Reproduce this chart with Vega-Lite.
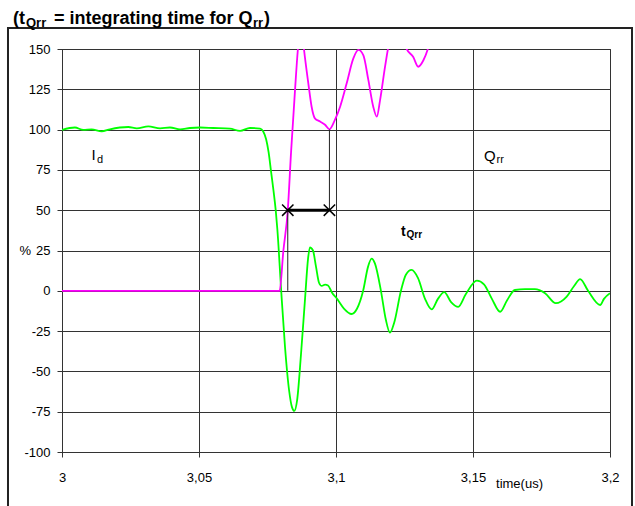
{
  "$schema": "https://vega.github.io/schema/vega-lite/v6.json",
  "width": 548,
  "height": 403,
  "autosize": {"type": "none"},
  "padding": {"left": 62, "top": 49, "right": 25, "bottom": 54},
  "background": "white",
  "config": {
    "view": {"stroke": "#333", "strokeWidth": 1},
    "axis": {
      "labelFont": "Liberation Sans", "labelFontSize": 13, "labelColor": "#000",
      "titleFont": "Liberation Sans", "titleFontSize": 13, "titleFontWeight": "normal", "titleColor": "#000",
      "gridColor": "#333", "gridOpacity": 1, "gridWidth": 1,
      "domainColor": "#333", "tickColor": "#333", "tickSize": 5
    }
  },
  "datasets": {
    "curves": [
      {"series": "Id", "x": 3.0, "y": 99.8}, {"series": "Id", "x": 3.0047, "y": 101.3}, {"series": "Id", "x": 3.0078, "y": 99.8},
      {"series": "Id", "x": 3.0108, "y": 100.2}, {"series": "Id", "x": 3.0145, "y": 98.9}, {"series": "Id", "x": 3.0175, "y": 100.2},
      {"series": "Id", "x": 3.0242, "y": 101.6}, {"series": "Id", "x": 3.0273, "y": 100.8}, {"series": "Id", "x": 3.0315, "y": 102},
      {"series": "Id", "x": 3.0358, "y": 100.8}, {"series": "Id", "x": 3.0394, "y": 101.3}, {"series": "Id", "x": 3.0431, "y": 100.2},
      {"series": "Id", "x": 3.0467, "y": 101}, {"series": "Id", "x": 3.0504, "y": 101.3}, {"series": "Id", "x": 3.0552, "y": 101},
      {"series": "Id", "x": 3.0613, "y": 100.6}, {"series": "Id", "x": 3.065, "y": 99.2}, {"series": "Id", "x": 3.0686, "y": 101},
      {"series": "Id", "x": 3.0723, "y": 100.6}, {"series": "Id", "x": 3.0734, "y": 99}, {"series": "Id", "x": 3.0745, "y": 94},
      {"series": "Id", "x": 3.0754, "y": 86}, {"series": "Id", "x": 3.0763, "y": 74}, {"series": "Id", "x": 3.0772, "y": 62},
      {"series": "Id", "x": 3.078, "y": 50}, {"series": "Id", "x": 3.0786, "y": 38}, {"series": "Id", "x": 3.08, "y": 0},
      {"series": "Id", "x": 3.0814, "y": -35}, {"series": "Id", "x": 3.0829, "y": -62}, {"series": "Id", "x": 3.0839, "y": -72},
      {"series": "Id", "x": 3.0848, "y": -74.5}, {"series": "Id", "x": 3.0858, "y": -68}, {"series": "Id", "x": 3.0872, "y": -40},
      {"series": "Id", "x": 3.0887, "y": -5}, {"series": "Id", "x": 3.0898, "y": 20}, {"series": "Id", "x": 3.0905, "y": 27},
      {"series": "Id", "x": 3.0916, "y": 25}, {"series": "Id", "x": 3.0927, "y": 15}, {"series": "Id", "x": 3.0938, "y": 5},
      {"series": "Id", "x": 3.0948, "y": 3}, {"series": "Id", "x": 3.096, "y": 3.8}, {"series": "Id", "x": 3.0971, "y": 3.3},
      {"series": "Id", "x": 3.0985, "y": -1}, {"series": "Id", "x": 3.1004, "y": -5}, {"series": "Id", "x": 3.1029, "y": -11},
      {"series": "Id", "x": 3.1057, "y": -14.4}, {"series": "Id", "x": 3.1077, "y": -11}, {"series": "Id", "x": 3.1099, "y": 0},
      {"series": "Id", "x": 3.1117, "y": 15}, {"series": "Id", "x": 3.113, "y": 20}, {"series": "Id", "x": 3.1142, "y": 17},
      {"series": "Id", "x": 3.1164, "y": 0}, {"series": "Id", "x": 3.1182, "y": -18}, {"series": "Id", "x": 3.1197, "y": -26},
      {"series": "Id", "x": 3.1212, "y": -20}, {"series": "Id", "x": 3.1237, "y": 0}, {"series": "Id", "x": 3.1255, "y": 10},
      {"series": "Id", "x": 3.1276, "y": 13}, {"series": "Id", "x": 3.1299, "y": 8}, {"series": "Id", "x": 3.1325, "y": -5},
      {"series": "Id", "x": 3.1349, "y": -11.5}, {"series": "Id", "x": 3.1372, "y": -5}, {"series": "Id", "x": 3.1395, "y": -0.8},
      {"series": "Id", "x": 3.142, "y": -7}, {"series": "Id", "x": 3.1446, "y": -10}, {"series": "Id", "x": 3.1474, "y": -2},
      {"series": "Id", "x": 3.1514, "y": 6.3}, {"series": "Id", "x": 3.154, "y": 4}, {"series": "Id", "x": 3.1569, "y": -5},
      {"series": "Id", "x": 3.1599, "y": -13}, {"series": "Id", "x": 3.1624, "y": -6}, {"series": "Id", "x": 3.1653, "y": 0.5},
      {"series": "Id", "x": 3.169, "y": 1}, {"series": "Id", "x": 3.1726, "y": 1}, {"series": "Id", "x": 3.1763, "y": -1.5},
      {"series": "Id", "x": 3.1802, "y": -7.7}, {"series": "Id", "x": 3.1842, "y": -3.6}, {"series": "Id", "x": 3.1869, "y": 3},
      {"series": "Id", "x": 3.1891, "y": 7.3}, {"series": "Id", "x": 3.192, "y": 0}, {"series": "Id", "x": 3.1964, "y": -8.8},
      {"series": "Id", "x": 3.1978, "y": -5}, {"series": "Id", "x": 3.2, "y": -1.5},
      {"series": "Qrr", "x": 3.0, "y": 0}, {"series": "Qrr", "x": 3.0785, "y": 0}, {"series": "Qrr", "x": 3.0794, "y": 0},
      {"series": "Qrr", "x": 3.0808, "y": 25}, {"series": "Qrr", "x": 3.0824, "y": 50}, {"series": "Qrr", "x": 3.0836, "y": 86},
      {"series": "Qrr", "x": 3.0848, "y": 118}, {"series": "Qrr", "x": 3.086, "y": 148}, {"series": "Qrr", "x": 3.0872, "y": 168},
      {"series": "Qrr", "x": 3.0883, "y": 150}, {"series": "Qrr", "x": 3.0899, "y": 128.7}, {"series": "Qrr", "x": 3.0911, "y": 114.2},
      {"series": "Qrr", "x": 3.0923, "y": 107}, {"series": "Qrr", "x": 3.0942, "y": 105}, {"series": "Qrr", "x": 3.096, "y": 103},
      {"series": "Qrr", "x": 3.0976, "y": 100.2}, {"series": "Qrr", "x": 3.0996, "y": 106}, {"series": "Qrr", "x": 3.1015, "y": 114.2},
      {"series": "Qrr", "x": 3.1039, "y": 128.7}, {"series": "Qrr", "x": 3.1063, "y": 144}, {"series": "Qrr", "x": 3.1082, "y": 149.4},
      {"series": "Qrr", "x": 3.11, "y": 146}, {"series": "Qrr", "x": 3.1118, "y": 130.8}, {"series": "Qrr", "x": 3.1136, "y": 114.2},
      {"series": "Qrr", "x": 3.1149, "y": 108}, {"series": "Qrr", "x": 3.1161, "y": 118.4}, {"series": "Qrr", "x": 3.1179, "y": 139},
      {"series": "Qrr", "x": 3.1195, "y": 155}, {"series": "Qrr", "x": 3.1226, "y": 168}, {"series": "Qrr", "x": 3.1258, "y": 150},
      {"series": "Qrr", "x": 3.1282, "y": 145}, {"series": "Qrr", "x": 3.13, "y": 139}, {"series": "Qrr", "x": 3.1319, "y": 143},
      {"series": "Qrr", "x": 3.1337, "y": 151}, {"series": "Qrr", "x": 3.136, "y": 168}
    ],
    "frame": [{"x": 2.98029, "x2": 3.20803, "y": 163.0, "y2": -136}],
    "segs": [
      {"kind": "thin", "x": 3.0824, "y": 0, "x2": 3.0824, "y2": 50},
      {"kind": "thin", "x": 3.0976, "y": 50, "x2": 3.0976, "y2": 100},
      {"kind": "thick", "x": 3.0824, "y": 50, "x2": 3.0976, "y2": 50}
    ],
    "marks": [{"x": 3.0824, "y": 50}, {"x": 3.0976, "y": 50}],
    "labels": [
      {"role": "lab", "x": 3.01077, "y": 81.1, "text": "I"},
      {"role": "labsub", "x": 3.01277, "y": 79.3, "text": "d"},
      {"role": "lab", "x": 3.15401, "y": 80.8, "text": "Q"},
      {"role": "labsub", "x": 3.15858, "y": 79.3, "text": "rr"},
      {"role": "tq", "x": 3.12372, "y": 34.0, "text": "t"},
      {"role": "tqsub", "x": 3.12573, "y": 32.8, "text": "Qrr"},
      {"role": "title", "x": 2.98212, "y": 165.5, "text": "(t"},
      {"role": "titlesub", "x": 2.98686, "y": 163.4, "text": "Qrr"},
      {"role": "title", "x": 2.99708, "y": 165.5, "text": "= integrating time for Q"},
      {"role": "titlesub", "x": 3.06971, "y": 163.4, "text": "rr"},
      {"role": "title", "x": 3.07372, "y": 165.5, "text": ")"}
    ]
  },
  "encoding": {
    "x": {
      "field": "x", "type": "quantitative",
      "scale": {"domain": [3, 3.2], "nice": false, "zero": false},
      "axis": {
        "values": [3, 3.05, 3.1, 3.15, 3.2],
        "labelExpr": "replace(toString(datum.value), '.', ',')",
        "labelPadding": 14, "labelFlush": false, "labelOverlap": false,
        "title": "time(us)", "titleX": 457, "titleY": 31, "titleBaseline": "middle", "titleAlign": "center",
        "grid": true
      }
    },
    "y": {
      "field": "y", "type": "quantitative",
      "scale": {"domain": [-100, 150], "nice": false, "zero": false},
      "axis": {
        "values": [-100, -75, -50, -25, 0, 25, 50, 75, 100, 125, 150],
        "labelExpr": "toString(datum.value)",
        "labelPadding": 7, "labelFlush": false, "labelOverlap": false,
        "title": "%", "titleAngle": 0, "titleX": -43, "titleY": 201.5, "titleAlign": "left", "titleBaseline": "middle",
        "grid": true
      }
    }
  },
  "layer": [
    {
      "data": {"name": "frame"},
      "mark": {"type": "rect", "fill": "white", "fillOpacity": 0, "stroke": "#222", "strokeWidth": 2, "clip": false},
      "encoding": {"x2": {"field": "x2"}, "y2": {"field": "y2"}}
    },
    {
      "data": {"name": "curves"},
      "mark": {"type": "line", "interpolate": "monotone", "strokeWidth": 1.8, "clip": true},
      "encoding": {
        "color": {"field": "series", "type": "nominal", "scale": {"domain": ["Id", "Qrr"], "range": ["#00ff00", "#ff00ff"]}, "legend": null}
      }
    },
    {
      "data": {"name": "segs"},
      "transform": [{"filter": "datum.kind === 'thin'"}],
      "mark": {"type": "rule", "color": "#222", "strokeWidth": 1},
      "encoding": {"x2": {"field": "x2"}, "y2": {"field": "y2"}}
    },
    {
      "data": {"name": "segs"},
      "transform": [{"filter": "datum.kind === 'thick'"}],
      "mark": {"type": "rule", "color": "#000", "strokeWidth": 3},
      "encoding": {"x2": {"field": "x2"}, "y2": {"field": "y2"}}
    },
    {
      "data": {"name": "marks"},
      "mark": {"type": "point", "shape": "M-1,-1L1,1M-1,1L1,-1", "size": 130, "filled": false, "color": "#000", "strokeWidth": 1.5, "opacity": 1},
      "encoding": {}
    },
    {
      "data": {"name": "labels"},
      "transform": [{"filter": "datum.role === 'lab'"}],
      "mark": {"type": "text", "align": "left", "baseline": "alphabetic", "font": "Liberation Sans", "fontSize": 15, "color": "#000", "clip": false},
      "encoding": {"text": {"field": "text"}}
    },
    {
      "data": {"name": "labels"},
      "transform": [{"filter": "datum.role === 'labsub'"}],
      "mark": {"type": "text", "align": "left", "baseline": "alphabetic", "font": "Liberation Sans", "fontSize": 11, "color": "#000", "clip": false},
      "encoding": {"text": {"field": "text"}}
    },
    {
      "data": {"name": "labels"},
      "transform": [{"filter": "datum.role === 'tq'"}],
      "mark": {"type": "text", "align": "left", "baseline": "alphabetic", "font": "Liberation Sans", "fontSize": 14, "fontWeight": "bold", "color": "#000", "clip": false},
      "encoding": {"text": {"field": "text"}}
    },
    {
      "data": {"name": "labels"},
      "transform": [{"filter": "datum.role === 'tqsub'"}],
      "mark": {"type": "text", "align": "left", "baseline": "alphabetic", "font": "Liberation Sans", "fontSize": 10, "fontWeight": "bold", "color": "#000", "clip": false},
      "encoding": {"text": {"field": "text"}}
    },
    {
      "data": {"name": "labels"},
      "transform": [{"filter": "datum.role === 'title'"}],
      "mark": {"type": "text", "align": "left", "baseline": "alphabetic", "font": "Liberation Sans", "fontSize": 18, "fontWeight": "bold", "color": "#000", "clip": false},
      "encoding": {"text": {"field": "text"}}
    },
    {
      "data": {"name": "labels"},
      "transform": [{"filter": "datum.role === 'titlesub'"}],
      "mark": {"type": "text", "align": "left", "baseline": "alphabetic", "font": "Liberation Sans", "fontSize": 13, "fontWeight": "bold", "color": "#000", "clip": false},
      "encoding": {"text": {"field": "text"}}
    }
  ]
}
